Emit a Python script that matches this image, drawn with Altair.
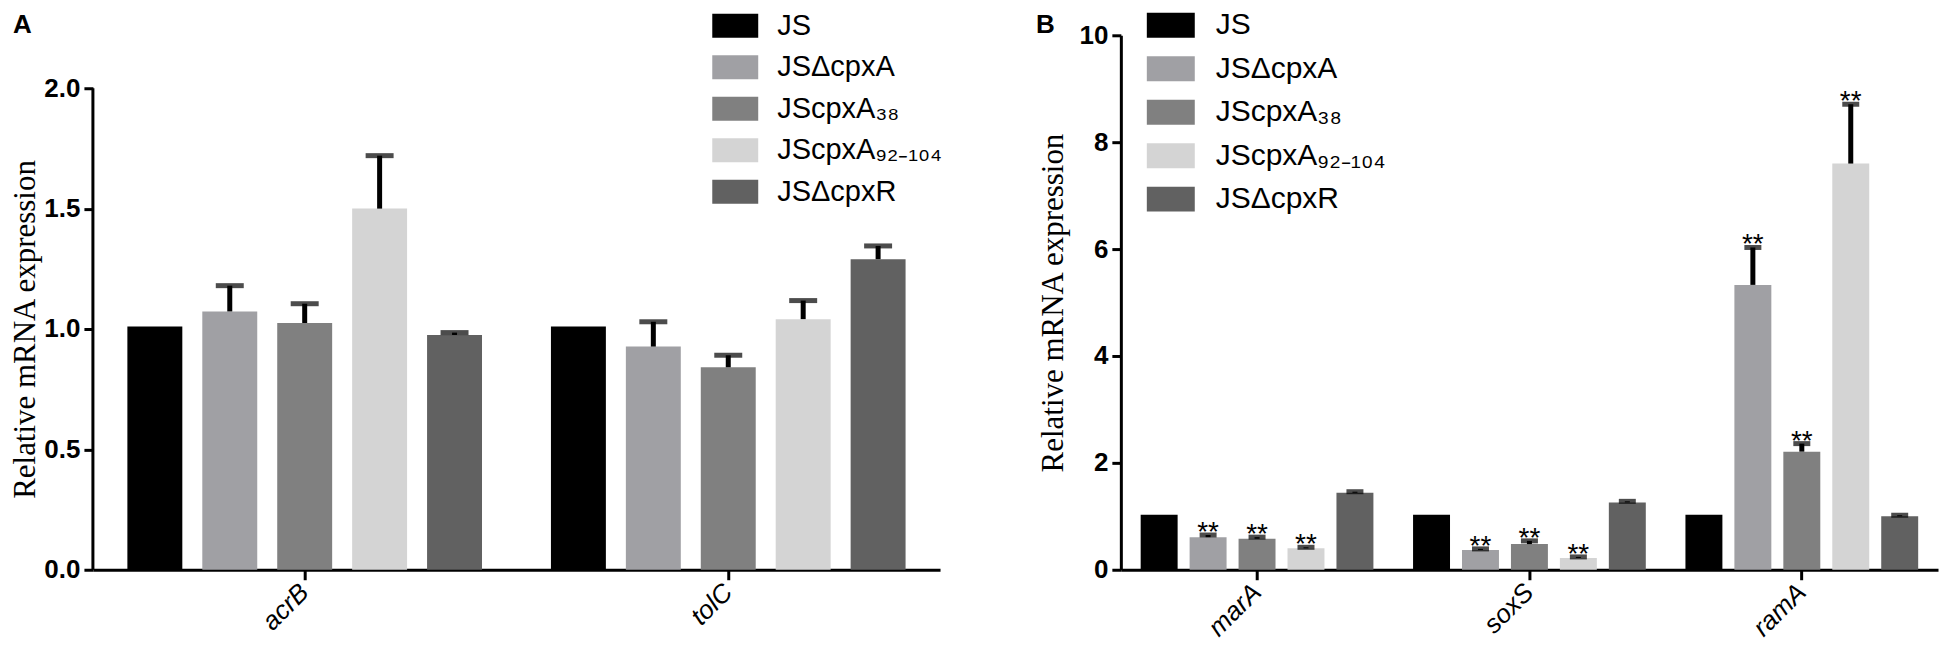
import altair as alt
import pandas as pd

# ---------------- data ----------------
strains = ["JS", "JSΔcpxA", "JScpxA₃₈", "JScpxA₉₂₋₁₀₄", "JSΔcpxR"]
colors = ["#000000", "#a0a0a4", "#808080", "#d4d4d4", "#616161"]

genes_a = ["acrB", "tolC"]
acrB_mean = [1.01, 1.073, 1.025, 1.50, 0.975]
acrB_err = [0.0, 0.107, 0.08, 0.22, 0.01]
tolC_mean = [1.01, 0.927, 0.841, 1.041, 1.29]
tolC_err = [0.0, 0.103, 0.05, 0.077, 0.055]
sig_a = ["", "", "", "", ""]

genes_b = ["marA", "soxS", "ramA"]
marA_mean = [1.03, 0.61, 0.58, 0.40, 1.44]
marA_err = [0.0, 0.04, 0.03, 0.02, 0.02]
soxS_mean = [1.03, 0.37, 0.48, 0.22, 1.26]
soxS_err = [0.0, 0.02, 0.06, 0.02, 0.02]
ramA_mean = [1.03, 5.33, 2.21, 7.60, 1.00]
ramA_err = [0.0, 0.70, 0.15, 1.11, 0.02]
sig_b = ["", "**", "**", "**", ""]

yticks_a = [0, 0.5, 1.0, 1.5, 2.0]
yticks_b = [0, 2, 4, 6, 8, 10]
ytitle = "Relative mRNA expression"


def table(genes, means, errs, sig):
    rows = []
    for g, m_list, e_list in zip(genes, means, errs):
        for s, m, e, k in zip(strains, m_list, e_list, sig):
            rows.append({"gene": g, "strain": s, "mean": m, "err": e,
                         "upper": m + e, "sig": k})
    return pd.DataFrame(rows)


df_a = table(genes_a, [acrB_mean, tolC_mean], [acrB_err, tolC_err], sig_a)
df_b = table(genes_b, [marA_mean, soxS_mean, ramA_mean],
             [marA_err, soxS_err, ramA_err], sig_b)

SANS = "Liberation Sans"
SERIF = "Liberation Serif"


def panel(df, genes, width, height, ymax, yvals, fmt, title_y, off_pi, off_po,
          cap, leg_x, leg_y, leg_path, leg_off, leg_rowpad, leg_font, letter,
          letter_x, own_axis_line):
    x = alt.X("gene:N", sort=genes,
              scale=alt.Scale(paddingInner=0, paddingOuter=0),
              axis=alt.Axis(title=None, labelAngle=-45, labelAlign="right",
                            labelBaseline="middle", labelFont=SANS,
                            labelFontStyle="italic", labelFontSize=26,
                            labelPadding=8, tickSize=10))
    xo = alt.XOffset("strain:N", sort=strains,
                     scale=alt.Scale(paddingInner=off_pi, paddingOuter=off_po))
    yscale = alt.Scale(domain=[0, ymax], nice=False, zero=True)
    base = alt.Chart(df)
    bars = base.mark_bar().encode(
        x=x, xOffset=xo,
        y=alt.Y("mean:Q", scale=yscale, title=ytitle,
                axis=alt.Axis(values=yvals, format=fmt, labelFont=SANS,
                              labelFontWeight="bold", labelFontSize=26,
                              labelPadding=4, tickSize=9, grid=False,
                              domain=not own_axis_line, labelOverlap=False,
                              titleFont=SERIF, titleFontSize=31,
                              titleFontWeight="normal", titleAngle=-90,
                              titleX=-58, titleY=title_y, titleAlign="center",
                              titleBaseline="alphabetic")),
        color=alt.Color("strain:N", scale=alt.Scale(domain=strains, range=colors),
                        legend=alt.Legend(orient="none", legendX=leg_x,
                                          legendY=leg_y, title=None,
                                          symbolType=leg_path,
                                          symbolSize=1156,
                                          symbolStrokeWidth=0,
                                          symbolOpacity=1,
                                          labelFont=SANS,
                                          labelFontSize=leg_font,
                                          labelOffset=leg_off,
                                          labelLimit=600,
                                          rowPadding=leg_rowpad,
                                          padding=0)),
    )
    errdf = base.transform_filter("datum.err > 0")
    stems = errdf.mark_rule(color="black", strokeWidth=5).encode(
        x=x, xOffset=xo, y=alt.Y("mean:Q", title=ytitle), y2="upper:Q")
    caps = errdf.mark_tick(color="black", thickness=5, size=cap).encode(
        x=x, xOffset=xo, y=alt.Y("upper:Q", title=ytitle))
    stars = base.transform_filter("datum.sig != ''").mark_text(
        font=SANS, fontSize=28, baseline="alphabetic", dy=6, color="black"
    ).encode(x=x, xOffset=xo, y=alt.Y("upper:Q", title=ytitle), text="sig:N")
    lab = alt.Chart(pd.DataFrame({"t": [letter]})).mark_text(
        font=SANS, fontSize=26, fontWeight="bold", align="left",
        baseline="alphabetic", color="black"
    ).encode(x=alt.value(letter_x), y=alt.value(-2), text="t:N")
    layers = [bars, stems, caps, stars, lab]
    if own_axis_line:
        line = alt.Chart(pd.DataFrame({"y0": [yvals[0]], "y1": [yvals[-1]]})).mark_rule(
            color="black", strokeWidth=3
        ).encode(x=alt.value(0), y=alt.Y("y0:Q", title=ytitle), y2="y1:Q")
        layers.append(line)
    return alt.layer(*layers).properties(width=width, height=height)


H = 535
left = panel(df_a, genes_a, 848, H, 2.0 * H / 482, yticks_a, ".1f", 294,
             0.2667, 0.46, 28, 626, -26.5,
             "M-1.353,-0.706H1.353V0.706H-1.353Z", 25, 9.5, 29, "A", -80, True)
right = panel(df_b, genes_b, 818, H, 10, yticks_b, "d", H / 2,
              0.245, 0.405, 17, 33, -27,
              "M-1.412,-0.735H1.412V0.735H-1.412Z", 28, 11.5, 30, "B", -85, False)

chart = alt.hconcat(left, right, spacing=181, bounds="flush").resolve_scale(
    x="independent", y="independent", xOffset="independent",
    color="independent"
).resolve_legend(color="independent").properties(
    padding={"left": 2, "top": 0, "right": 5, "bottom": 0},
    background="white",
).configure_view(stroke=None).configure_axis(
    domainColor="black", domainWidth=3, tickColor="black", tickWidth=3,
    labelColor="black", titleColor="black", grid=False
)

chart.save("out.html", embed_options={"renderer": "svg", "actions": False})
